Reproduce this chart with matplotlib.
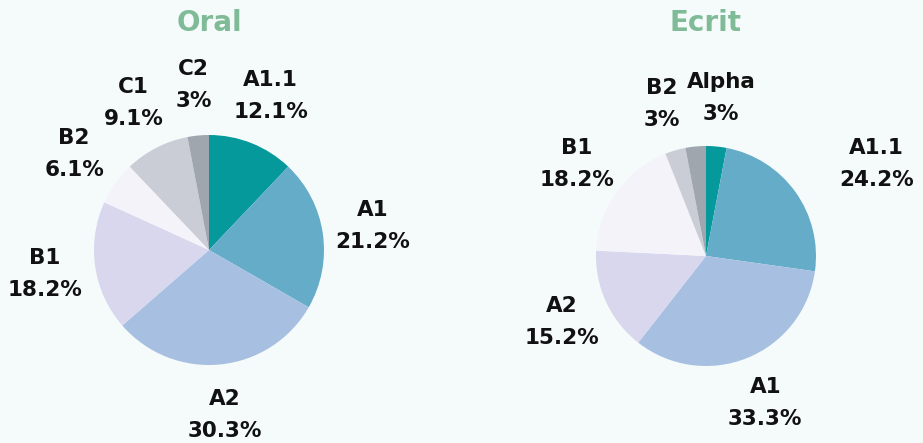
import matplotlib.pyplot as plt

# level distribution, oral and written
oral_levels = ["A1.1", "A1", "A2", "B1", "B2", "C1", "C2"]
oral_share = [12.1, 21.2, 30.3, 18.2, 6.1, 9.1, 3.0]

ecrit_levels = ["Alpha", "A1.1", "A1", "A2", "B1", "B2", "C1"]
ecrit_share = [3.0, 24.2, 33.3, 15.2, 18.2, 3.0, 3.0]
ecrit_hidden = ["C1"]  # label not shown in the source chart

colors = ["#05999c", "#65acc9", "#a7c0e1", "#d8d7ee", "#f4f3fa", "#cacdd6", "#9fa6ae"]
bg = "#f5fbfb"

W, H = 923, 443
fig = plt.figure(figsize=(W / 100, H / 100), dpi=100, facecolor=bg)


def draw_pie(x0, x1, cx, cy, r, title, levels, share, hidden=(), push=None):
    ax = fig.add_axes([x0 / W, 0, (x1 - x0) / W, 1])
    ax.set_facecolor(bg)
    labels = ["" if l in hidden else "%s\n%g%%" % (l, s) for l, s in zip(levels, share)]
    wedges, texts = ax.pie(share, labels=labels, colors=colors, startangle=90,
                           counterclock=False, labeldistance=1.44,
                           wedgeprops=dict(linewidth=0),
                           textprops=dict(fontsize=15.5, fontweight="bold",
                                          color="#111111", linespacing=1.75))
    for lev, t in zip(levels, texts):
        t.set_ha("center")
        t.set_va("center")
        if push and lev in push:
            x, y = t.get_position()
            t.set_position((x + push[lev], y))
    ax.axis("off")
    # pixel-based limits so that the pie has radius 1 (after pie, which resets them)
    ax.set_xlim((x0 - cx) / r, (x1 - cx) / r)
    ax.set_ylim(-(H - cy) / r, cy / r)
    ax.text(0, (cy - 23) / r, title, ha="center", va="center",
            fontsize=20, fontweight="bold", color="#80bb98")


draw_pie(0, 461, 209, 250, 115, "Oral", oral_levels, oral_share)
draw_pie(461, 923, 706, 256, 110, "Ecrit", ecrit_levels, ecrit_share, ecrit_hidden,
         push={"A1.1": 0.38})

fig.savefig("out.png", dpi=100, facecolor=bg)
